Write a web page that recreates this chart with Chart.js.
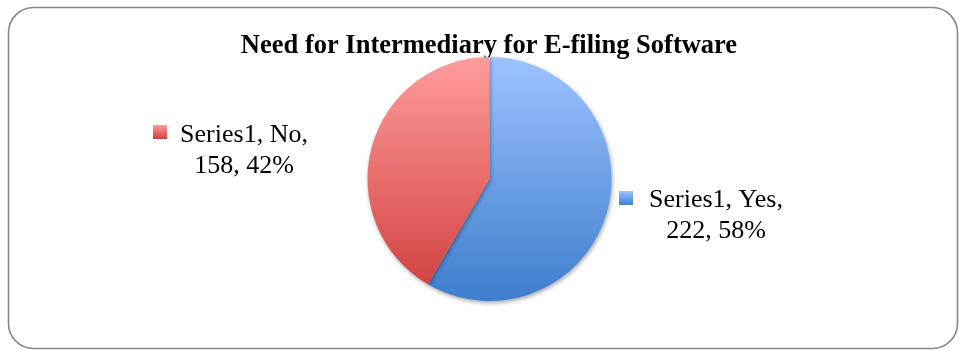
<!DOCTYPE html>
<html>
<head>
<meta charset="utf-8">
<script src="https://cdn.jsdelivr.net/npm/chart.js@4/dist/chart.umd.min.js"></script>
<style>
  html, body { margin: 0; padding: 0; background: #fff; }
  #wrap { width: 959px; height: 350px; }
</style>
</head>
<body>
<div id="wrap"><canvas id="pie"></canvas></div>
<script>
'use strict';

// Data
const seriesName = 'Series1';
const categories = ['Yes', 'No'];
const values = [222, 158];
const percents = ['58%', '42%'];
const chartTitle = 'Need for Intermediary for E-filing Software';

// Gradient stops per slice (top -> bottom)
const sliceColors = [
  ['#9dc3ff', '#3e7ece'],
  ['#ff9c9c', '#cf3e3c'],
];

// label anchor (centre of text block) per slice, and marker position
const labelSpots = [
  { x: 716, y: 207, mx: 619, my: 191 },
  { x: 244, y: 142, mx: 153, my: 125 },
];

const SERIF = '"Liberation Serif", "Times New Roman", serif';

function sliceGradient(ctx, i) {
  const chart = ctx.chart;
  const area = chart.chartArea;
  if (!area) return sliceColors[i][0];
  // pie spans the full chart-area height (height is the limiting side)
  const r = Math.min(area.right - area.left, area.bottom - area.top) / 2;
  const cy = (area.top + area.bottom) / 2;
  const g = chart.ctx.createLinearGradient(0, cy - r, 0, cy + r);
  g.addColorStop(0, sliceColors[i][0]);
  g.addColorStop(1, sliceColors[i][1]);
  return g;
}

const frame = {
  id: 'frame',
  beforeDraw(chart) {
    const c = chart.ctx;
    c.save();
    c.fillStyle = '#fff';
    c.fillRect(0, 0, chart.width, chart.height);
    c.strokeStyle = '#878787';
    c.lineWidth = 1.6;
    c.beginPath();
    c.roundRect(8.5, 7.5, 949, 341, 25);
    c.stroke();
    // title
    c.fillStyle = '#000';
    c.font = 'bold 26.5px ' + SERIF;
    c.textAlign = 'center';
    c.textBaseline = 'alphabetic';
    c.fillText(chartTitle, 489, 53);
    c.restore();
  },
  beforeDatasetDraw(chart) {
    const c = chart.ctx;
    c.save();
    c.shadowColor = 'rgba(0,0,0,0.35)';
    c.shadowBlur = 4;
    c.shadowOffsetX = 1;
    c.shadowOffsetY = 2;
  },
  afterDatasetDraw(chart) {
    chart.ctx.restore();
  },
  afterDraw(chart) {
    const c = chart.ctx;
    c.save();
    c.font = '26px ' + SERIF;
    c.textAlign = 'center';
    categories.forEach((cat, i) => {
      const s = labelSpots[i];
      const g = c.createLinearGradient(0, s.my, 0, s.my + 14);
      g.addColorStop(0, sliceColors[i][0]);
      g.addColorStop(1, sliceColors[i][1]);
      c.fillStyle = g;
      c.fillRect(s.mx, s.my, 14, 14);
      c.fillStyle = '#000';
      c.fillText(`${seriesName}, ${cat},`, s.x, s.y);
      c.fillText(`${values[i]}, ${percents[i]}`, s.x, s.y + 31);
    });
    c.restore();
  },
};

new Chart(document.getElementById('pie'), {
  type: 'pie',
  data: {
    labels: categories,
    datasets: [{
      label: seriesName,
      data: values,
      backgroundColor: (ctx) => sliceGradient(ctx, ctx.dataIndex),
      borderWidth: 0,
    }],
  },
  options: {
    responsive: true,
    maintainAspectRatio: false,
    animation: false,
    layout: { padding: { top: 57, bottom: 49, left: 20, right: 0 } },
    plugins: {
      legend: { display: false },
      title: { display: false },
      tooltip: { enabled: false },
    },
  },
  plugins: [frame],
});
</script>
</body>
</html>
